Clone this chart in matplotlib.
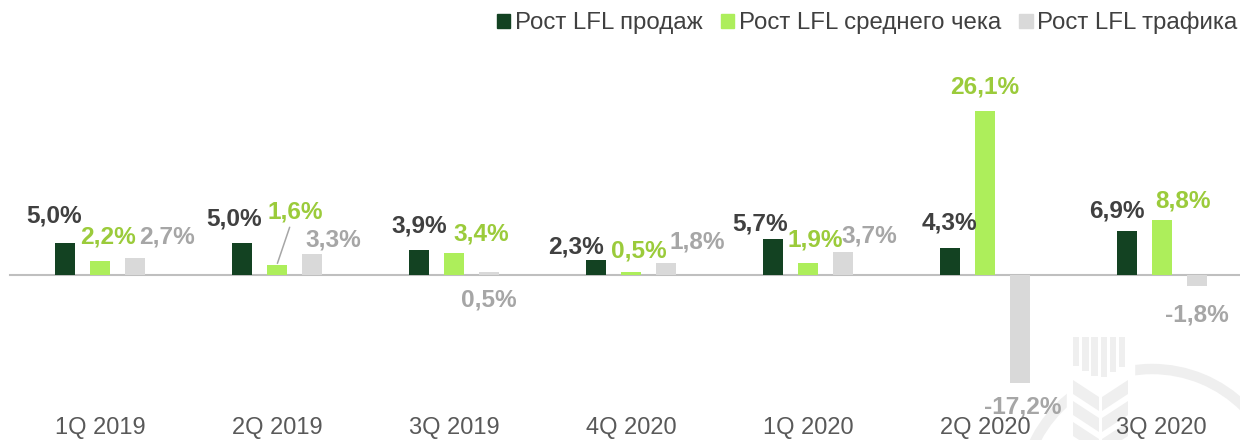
import numpy as np
import matplotlib
matplotlib.use('Agg')
import matplotlib.pyplot as plt
from matplotlib.patches import Patch, Arc, Rectangle, Polygon
from matplotlib.transforms import blended_transform_factory

plt.rcParams['font.family'] = ['Liberation Sans', 'DejaVu Sans']

quarters = ['1Q 2019', '2Q 2019', '3Q 2019', '4Q 2020', '1Q 2020', '2Q 2020', '3Q 2020']
sales = [5.0, 5.0, 3.9, 2.3, 5.7, 4.3, 6.9]
check = [2.2, 1.6, 3.4, 0.5, 1.9, 26.1, 8.8]
traffic = [2.7, 3.3, 0.5, 1.8, 3.7, -17.2, -1.8]
names = ['Рост LFL продаж', 'Рост LFL среднего чека', 'Рост LFL трафика']

# label offsets in pixels (dx, dy) from bar end
sales_off = [(-11, 27), (-8, 24), (0, 24), (-20, 13), (-13, 15), (0, 25), (-10, 20)]
check_off = [(8, 24), (18, 53), (27, 19), (8, 21), (7, 23), (0, 24), (21, 19)]
traffic_off = [(32, 21), (21, 14), (0, -28), (31, 21), (26, 16), (3, -24), (0, -29)]

bar_cols = ['#134222', '#ADEE5B', '#D9D9D9']
lab_cols = ['#404040', '#9BCB3B', '#A6A6A6']

fig = plt.figure(figsize=(12.4, 4.4), dpi=100)

# faint logo watermark, pixel coords
bg = fig.add_axes([0, 0, 1, 1], zorder=0)
bg.set_xlim(0, 1240)
bg.set_ylim(440, 0)
bg.axis('off')
wm = '#EFEFEF'
bg.add_patch(Arc((1152, 500), 262, 262, theta1=0, theta2=360, lw=7.5, color=wm))
bg.add_patch(Rectangle((1067, 330), 67, 120, color='white'))
xc = 1100.5
for k in range(6):
    x0 = 1073 + k * 9.2
    d = abs(x0 + 3.2 - xc)
    bg.add_patch(Rectangle((x0, 337), 6.4, 42 - 0.55 * d, color=wm, lw=0))
for k in range(4):
    y0 = 380 + 21 * k
    bg.add_patch(Polygon([(1073, y0), (xc - 1.5, y0 + 17), (xc - 1.5, y0 + 31), (1073, y0 + 14)],
                         color=wm, lw=0))
    bg.add_patch(Polygon([(1128, y0), (xc + 1.5, y0 + 17), (xc + 1.5, y0 + 31), (1128, y0 + 14)],
                         color=wm, lw=0))

ax = fig.add_axes([0, 0, 1, 1], zorder=1)
ax.patch.set_alpha(0)
ax.set_xlim(-0.565, 6.442)
ax.set_ylim(-26.36, 43.81)

x = np.arange(len(quarters))
w = 0.113
step = 0.198
series = [sales, check, traffic]
offs = [sales_off, check_off, traffic_off]
for j in range(3):
    xs = x + (j - 1) * step
    ax.bar(xs, series[j], w, color=bar_cols[j], zorder=2)
    for i, v in enumerate(series[j]):
        txt = f'{v:.1f}%'.replace('.', ',')
        dx, dy = offs[j][i]
        kw = {}
        if j == 1 and i == 1:
            kw['arrowprops'] = dict(arrowstyle='-', color='#A6A6A6', lw=1.1,
                                    shrinkA=1, shrinkB=1)
        ax.annotate(txt, (xs[i], v), xytext=(dx, dy), textcoords='offset pixels',
                    ha='center', va='center', fontsize=17.6, fontweight='bold',
                    color=lab_cols[j], zorder=3, **kw)

for s in ['top', 'right', 'left']:
    ax.spines[s].set_visible(False)
ax.spines['bottom'].set_position(('data', 0))
ax.spines['bottom'].set_bounds(-0.509, 6.442)
ax.spines['bottom'].set_color('#BFBFBF')
ax.spines['bottom'].set_linewidth(1.5)
ax.spines['bottom'].set_zorder(1)
ax.set_xticks([])
ax.set_yticks([])

tr = blended_transform_factory(ax.transData, ax.transAxes)
for i, q in enumerate(quarters):
    ax.text(i, 1 - 428 / 440, q, transform=tr, ha='center', va='center',
            fontsize=17, color='#595959', zorder=4)

handles = [Patch(color=c) for c in bar_cols]
fig.legend(handles, names, loc='center right', bbox_to_anchor=(1.0, 1 - 23 / 440),
           ncol=3, frameon=False, fontsize=17.3, handlelength=0.55, handleheight=0.55,
           handletextpad=0.2, columnspacing=0.75, borderpad=0.1, borderaxespad=0,
           labelcolor='#404040')

fig.savefig('out.png', dpi=100)
